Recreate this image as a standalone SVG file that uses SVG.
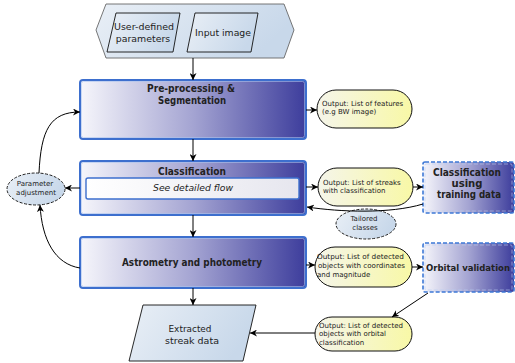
<svg xmlns="http://www.w3.org/2000/svg" width="515" height="363" viewBox="0 0 515 363">
<defs>
<linearGradient id="gBox" x1="0" y1="0" x2="1" y2="0">
<stop offset="0" stop-color="#f6f6fb"/>
<stop offset="0.5" stop-color="#a4a4d2"/>
<stop offset="1" stop-color="#3d3d9c"/>
</linearGradient>
<linearGradient id="gOut" x1="0" y1="0" x2="1" y2="0">
<stop offset="0" stop-color="#f5f5ea"/>
<stop offset="1" stop-color="#f8f8a6"/>
</linearGradient>
<linearGradient id="gLight" x1="0" y1="0" x2="1" y2="0.3">
<stop offset="0" stop-color="#e9eff6"/>
<stop offset="1" stop-color="#c8d8ea"/>
</linearGradient>
<linearGradient id="gInner" x1="0" y1="0" x2="1" y2="0">
<stop offset="0" stop-color="#ffffff"/>
<stop offset="1" stop-color="#e6e6ee"/>
</linearGradient>
<marker id="ah" viewBox="0 0 10 10" refX="10" refY="5" markerWidth="7" markerHeight="7" markerUnits="userSpaceOnUse" orient="auto">
<path d="M0,0 L10,5 L0,10 L3,5 Z" fill="#000"/>
</marker>
</defs>
<style>
.main{fill:url(#gBox);stroke:#3d6fce;stroke-width:2}
.mainIn{fill:none;stroke:#a9c2ee;stroke-width:0.6}
.dash{fill:url(#gBox);stroke:#3d78d6;stroke-width:1.6;stroke-dasharray:4 2}
.dashIn{fill:none;stroke:#b8cff2;stroke-width:0.6;stroke-dasharray:4 2}
.out{fill:url(#gOut);stroke:#111;stroke-width:1}
.dell{fill:url(#gLight);stroke:#222;stroke-width:1;stroke-dasharray:3 1.5}
.para{fill:url(#gLight);stroke:#111;stroke-width:0.9}
.t{font-family:"DejaVu Sans",sans-serif;fill:#222}
.b{font-weight:bold;font-size:10px}
.bl{font-weight:bold;font-size:10.5px}
.o{font-size:7px}
.s{font-size:7px}
.p{font-size:9.4px}
.c{fill:none;stroke:#000;stroke-width:1}
</style>

<g id="inputs">
<polygon points="96,30 106,4 284,4 294,30 284,58 106,58" fill="url(#gLight)" stroke="#666" stroke-width="0.9"/>
<polygon points="116,13 180,13 173,52 107,52" class="para"/>
<text class="t p" text-anchor="middle" x="144" y="30" textLength="60" lengthAdjust="spacingAndGlyphs">User-defined</text>
<text class="t p" text-anchor="middle" x="143" y="42">parameters</text>
<polygon points="195,13 258,13 251,52 187,52" class="para"/>
<text class="t p" text-anchor="middle" x="223" y="36" textLength="56" lengthAdjust="spacingAndGlyphs">Input image</text>
</g>

<g id="preprocessing">
<rect x="80" y="80" width="226" height="59" rx="3" class="main"/>
<rect x="81.5" y="81.5" width="223" height="56" rx="2" class="mainIn"/>
<text class="t b" text-anchor="middle" x="191" y="92" textLength="88" lengthAdjust="spacingAndGlyphs">Pre-processing &amp;</text>
<text class="t b" text-anchor="middle" x="192" y="104" textLength="68" lengthAdjust="spacingAndGlyphs">Segmentation</text>
</g>

<g id="classification">
<rect x="80" y="161" width="226" height="54" rx="3" class="main"/>
<rect x="81.5" y="162.5" width="223" height="51" rx="2" class="mainIn"/>
<text class="t bl" text-anchor="middle" x="192" y="175" textLength="68" lengthAdjust="spacingAndGlyphs">Classification</text>
<rect x="86" y="178" width="213" height="21" rx="2" fill="url(#gInner)" stroke="#3d6fce" stroke-width="1.4"/>
<text class="t" font-style="italic" font-size="9.5" text-anchor="middle" x="193" y="191" textLength="80" lengthAdjust="spacingAndGlyphs">See detailed flow</text>
</g>

<g id="astrometry">
<rect x="80" y="237" width="226" height="51" rx="3" class="main"/>
<rect x="81.5" y="238.5" width="223" height="48" rx="2" class="mainIn"/>
<text class="t b" text-anchor="middle" x="192" y="266" textLength="140" lengthAdjust="spacingAndGlyphs">Astrometry and photometry</text>
</g>

<g id="extracted">
<polygon points="143,305 256,305 243,361 129,361" class="para"/>
<text class="t p" text-anchor="middle" x="190" y="332" textLength="43" lengthAdjust="spacingAndGlyphs">Extracted</text>
<text class="t p" text-anchor="middle" x="192" y="344" textLength="54" lengthAdjust="spacingAndGlyphs">streak data</text>
</g>

<g id="out1">
<rect x="317" y="90" width="95" height="38" rx="19" class="out"/>
<text class="t o" x="322" y="106">Output: List of features</text>
<text class="t o" x="322" y="114">(e.g BW image)</text>
</g>

<g id="out2">
<rect x="318" y="168" width="95" height="38" rx="19" class="out"/>
<text class="t o" x="323" y="185">Output: List of streaks</text>
<text class="t o" x="323" y="193">with classification</text>
</g>

<g id="training">
<rect x="423" y="162" width="91" height="51" rx="2" class="dash"/>
<rect x="425" y="164" width="87" height="47" rx="1" class="dashIn"/>
<text class="t bl" text-anchor="middle" x="467" y="176" textLength="68" lengthAdjust="spacingAndGlyphs">Classification</text>
<text class="t bl" text-anchor="middle" x="467" y="187" textLength="31" lengthAdjust="spacingAndGlyphs">using</text>
<text class="t bl" text-anchor="middle" x="469" y="198" textLength="64" lengthAdjust="spacingAndGlyphs">training data</text>
</g>

<g id="tailored">
<ellipse cx="366" cy="224" rx="30" ry="15" class="dell"/>
<text class="t s" text-anchor="middle" x="364" y="221">Tailored</text>
<text class="t s" text-anchor="middle" x="365" y="230">classes</text>
</g>

<g id="param">
<ellipse cx="36" cy="189" rx="29" ry="16" class="dell"/>
<text class="t s" text-anchor="middle" x="35" y="186">Parameter</text>
<text class="t s" text-anchor="middle" x="36" y="195">adjustment</text>
</g>

<g id="out3">
<rect x="315" y="247" width="97" height="40" rx="20" class="out"/>
<text class="t o" x="317" y="259" textLength="87" lengthAdjust="spacingAndGlyphs">Output: List of detected</text>
<text class="t o" x="318" y="268" textLength="87" lengthAdjust="spacingAndGlyphs">objects with coordinates</text>
<text class="t o" x="317" y="277">and magnitude</text>
</g>

<g id="orbital">
<rect x="423" y="243" width="91" height="49" rx="2" class="dash"/>
<rect x="425" y="245" width="87" height="45" rx="1" class="dashIn"/>
<text class="t" font-weight="bold" font-size="9px" text-anchor="middle" x="468" y="271" textLength="84" lengthAdjust="spacingAndGlyphs">Orbital validation</text>
</g>

<g id="out4">
<rect x="315" y="317" width="97" height="34" rx="17" class="out"/>
<text class="t o" x="319" y="328" textLength="84" lengthAdjust="spacingAndGlyphs">Output: List of detected</text>
<text class="t o" x="319" y="336">objects with orbital</text>
<text class="t o" x="319" y="345">classification</text>
</g>

<g id="connectors">
<line x1="193" y1="58" x2="193" y2="80" class="c" marker-end="url(#ah)"/>
<line x1="193" y1="139" x2="193" y2="161" class="c" marker-end="url(#ah)"/>
<line x1="193" y1="215" x2="193" y2="237" class="c" marker-end="url(#ah)"/>
<line x1="193" y1="288" x2="193" y2="305" class="c" marker-end="url(#ah)"/>
<line x1="306" y1="110" x2="317" y2="110" class="c" marker-end="url(#ah)"/>
<line x1="306" y1="187" x2="318" y2="187" class="c" marker-end="url(#ah)"/>
<line x1="413" y1="187" x2="423" y2="187" class="c" marker-end="url(#ah)"/>
<path d="M423,204 C390,214 340,212 307,207" class="c" marker-end="url(#ah)"/>
<line x1="306" y1="265" x2="315" y2="265" class="c" marker-end="url(#ah)"/>
<line x1="412" y1="267" x2="423" y2="267" class="c" marker-end="url(#ah)"/>
<line x1="428" y1="293" x2="392" y2="317" class="c" marker-end="url(#ah)"/>
<line x1="315" y1="333" x2="250" y2="333" class="c" marker-end="url(#ah)"/>
<path d="M39,173 C41,130 50,112 80,112" class="c" marker-end="url(#ah)"/>
<line x1="80" y1="188" x2="65" y2="188" class="c" marker-end="url(#ah)"/>
<path d="M80,268 C55,264 42,240 40,205" class="c" marker-end="url(#ah)"/>
</g>
</svg>
